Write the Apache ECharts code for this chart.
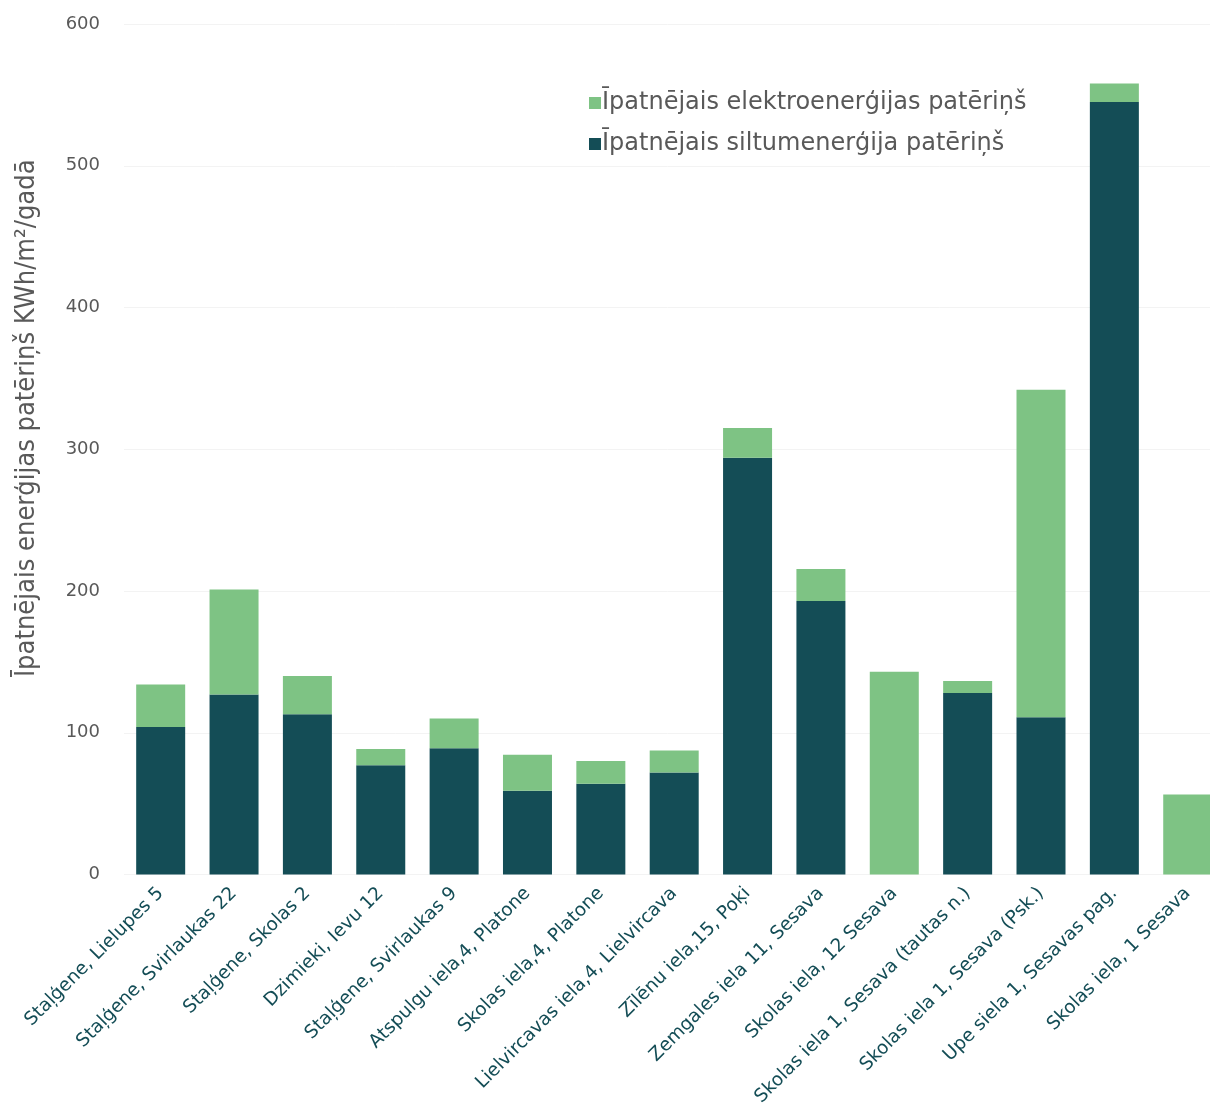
<!DOCTYPE html>
<html>
<head>
<meta charset="utf-8">
<script src="https://cdn.jsdelivr.net/npm/echarts@6/dist/echarts.min.js"></script>
<style>html,body{margin:0;padding:0;background:#fff;}#c{width:1210px;height:1113px;}</style>
</head>
<body>
<div id="c"></div>
<script>
const categories = [
  "Staļģene, Lielupes 5",
  "Staļģene, Svirlaukas 22",
  "Staļģene, Skolas 2",
  "Dzimieki, Ievu 12",
  "Staļģene, Svirlaukas 9",
  "Atspulgu iela,4, Platone",
  "Skolas iela,4, Platone",
  "Lielvircavas iela,4, Lielvircava",
  "Zīlēnu iela,15, Poķi",
  "Zemgales iela 11, Sesava",
  "Skolas iela, 12 Sesava",
  "Skolas iela 1, Sesava (tautas n.)",
  "Skolas iela 1, Sesava (Psk.)",
  "Upe siela 1, Sesavas pag.",
  "Skolas iela, 1 Sesava"
];
const heatValues = [104, 127, 113, 77, 89, 59, 64, 72, 294, 193, 0, 128, 111, 545, 0];
const electricValues = [30, 74, 27, 11.5, 21, 25.5, 16, 15.5, 21, 22.5, 143, 8.5, 231, 13, 56.5];
const yTicks = [0, 100, 200, 300, 400, 500, 600];
const seriesNames = ["Īpatnējais elektroenerģijas patēriņš", "Īpatnējais siltumenerģija patēriņš"];
const yTitle = "Īpatnējais enerģijas patēriņš KWh/m²/gadā";

const DARK = '#144d56';
const LIGHT = '#7ec384';
const FONT = 'DejaVu Sans';

const chart = echarts.init(document.getElementById('c'), null, {renderer: 'canvas'});
chart.setOption({
  animation: false,
  backgroundColor: '#ffffff',
  textStyle: {fontFamily: FONT},
  legend: {
    orient: 'vertical',
    left: 584,
    top: 86,
    itemWidth: 12,
    itemHeight: 12,
    itemGap: 17,
    icon: 'rect',
    textStyle: {fontFamily: FONT, fontSize: 24, color: '#595959', padding: [0, 0, 0, -4], lineHeight: 24},
    data: [seriesNames[0], seriesNames[1]]
  },
  grid: {left: 124, width: 1100.4, top: 24, bottom: 238.5, containLabel: false, outerBoundsMode: 'none'},
  xAxis: {
    type: 'category',
    data: categories,
    axisLine: {show: false},
    axisTick: {show: false},
    axisLabel: {
      rotate: 45,
      interval: 0,
      margin: 16,
      color: DARK,
      fontFamily: FONT,
      fontSize: 18.5
    }
  },
  yAxis: {
    type: 'value',
    min: yTicks[0],
    max: yTicks[yTicks.length - 1],
    interval: 100,
    name: yTitle,
    nameLocation: 'middle',
    nameGap: 84,
    nameTextStyle: {color: '#595959', fontFamily: 'DejaVu Sans Condensed', fontSize: 27, padding: [0, 0, 0, 62]},
    axisLine: {show: false},
    axisTick: {show: false},
    splitLine: {show: true, lineStyle: {color: '#f3f3f3', width: 1}},
    axisLabel: {color: '#595959', fontFamily: FONT, fontSize: 18, margin: 24}
  },
  series: [
    {
      name: seriesNames[1],
      type: 'bar',
      stack: 'total',
      barWidth: 49,
      itemStyle: {color: DARK},
      data: heatValues
    },
    {
      name: seriesNames[0],
      type: 'bar',
      stack: 'total',
      barWidth: 49,
      itemStyle: {color: LIGHT},
      data: electricValues
    }
  ]
});
</script>
</body>
</html>
